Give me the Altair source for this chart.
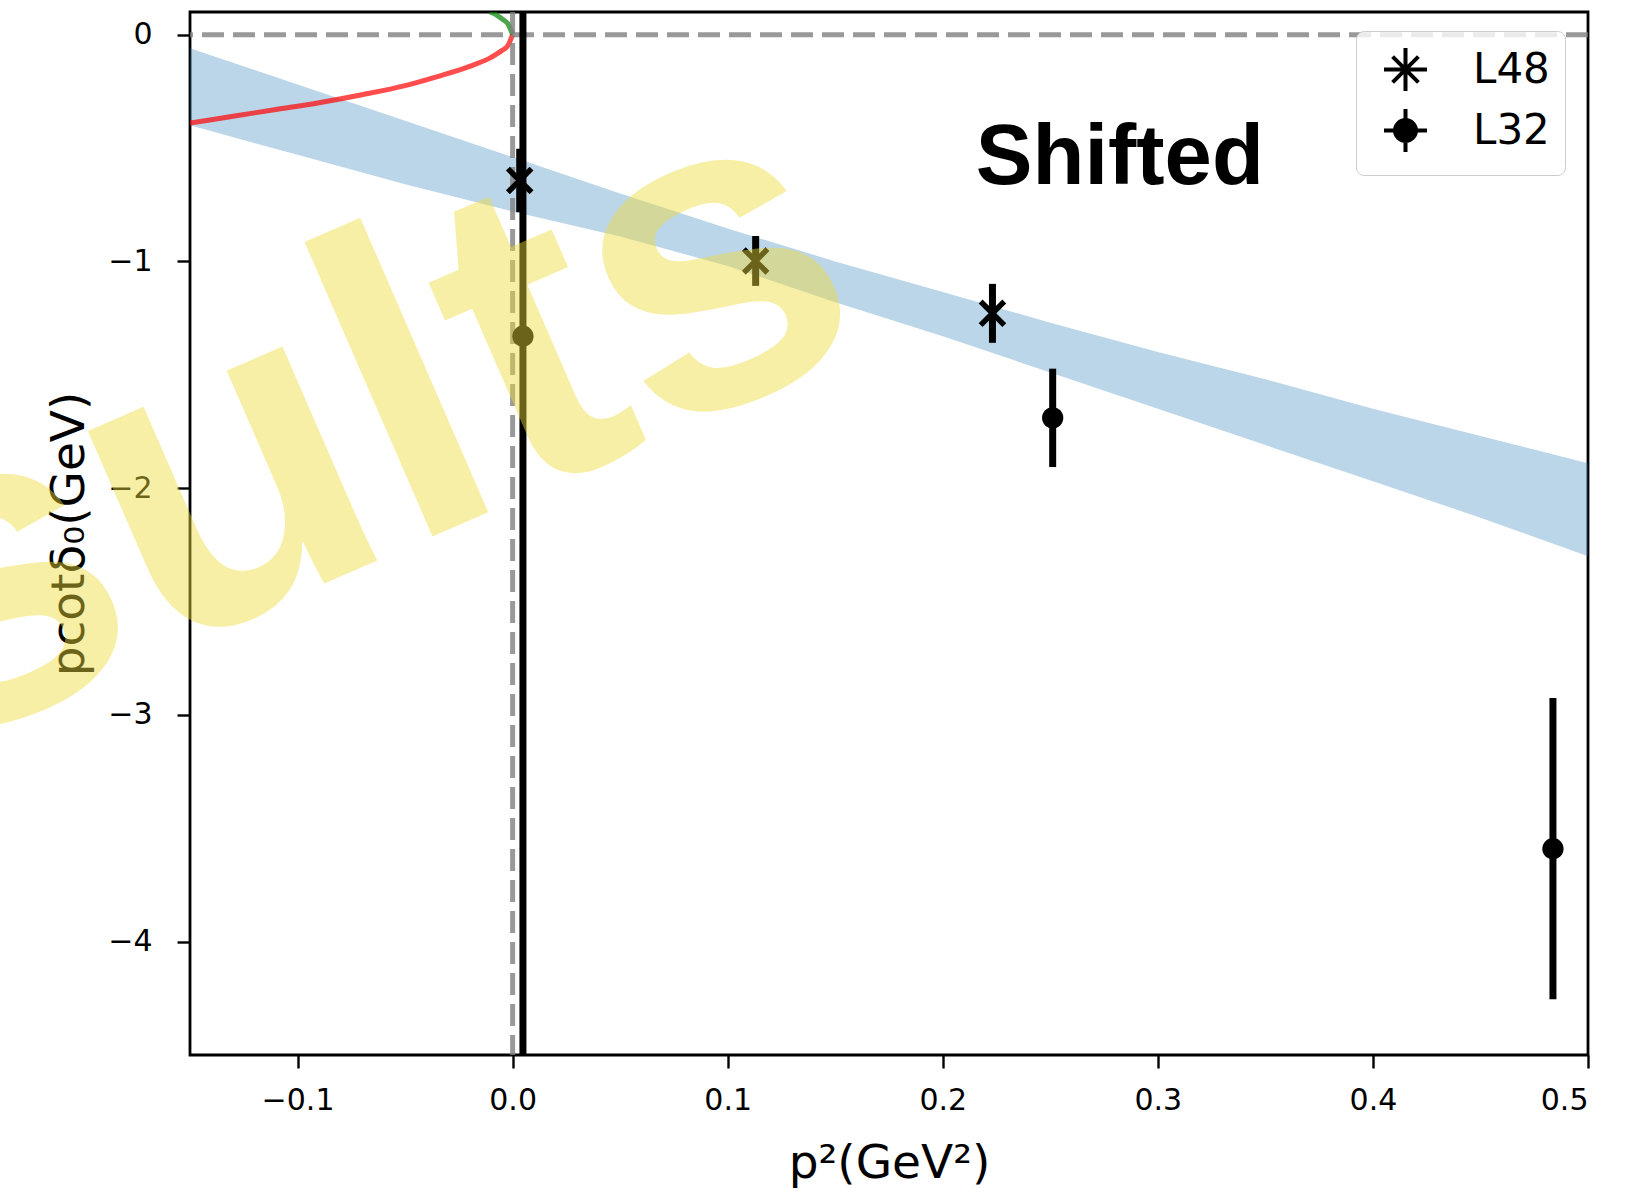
import altair as alt
import pandas as pd

# ---------------- data ----------------
band_x = [-0.15, -0.10, -0.05, 0.00, 0.05, 0.10, 0.15, 0.20, 0.25, 0.30, 0.35, 0.40, 0.45, 0.50]
band_upper = [-0.06, -0.22, -0.38, -0.54, -0.70, -0.855, -1.00, -1.135, -1.27, -1.40, -1.52, -1.65, -1.77, -1.89]
band_lower = [-0.40, -0.53, -0.66, -0.78, -0.89, -1.02, -1.18, -1.33, -1.49, -1.65, -1.81, -1.97, -2.13, -2.30]

red_x = [-0.15, -0.13, -0.11, -0.09, -0.07, -0.05, -0.035, -0.02, -0.01, -0.005, -0.002, 0.0]
red_y = [-0.39, -0.36, -0.33, -0.30, -0.265, -0.225, -0.185, -0.14, -0.10, -0.07, -0.045, 0.0]

green_x = [-0.0105, -0.008, -0.005, -0.002, 0.0]
green_y = [0.10, 0.09, 0.07, 0.045, 0.0]

l48_x = [0.0033, 0.1130, 0.2231]
l48_y = [-0.643, -0.998, -1.229]
l48_err = [0.14, 0.11, 0.13]

l32_x = [0.0048, 0.2511, 0.4837]
l32_y = [-1.330, -1.690, -3.590]
l32_err = [6.0, 0.217, 0.664]

series_names = ["L48", "L32"]
x_ticks = [-0.1, 0.0, 0.1, 0.2, 0.3, 0.4, 0.5]
y_ticks = [0, -1, -2, -3, -4]

label_text = ["Shifted"]
label_x = [0.2823]
label_y = [-0.657]

watermark_text = ["Results"]
watermark_x = [0.170]
watermark_y = [-1.358]

# ---------------- tables ----------------
band_df = pd.DataFrame({"x": band_x, "lo": band_lower, "hi": band_upper})
red_df = pd.DataFrame({"x": red_x, "y": red_y})
green_df = pd.DataFrame({"x": green_x, "y": green_y})
hline_df = pd.DataFrame({"y": [0.0]})
vline_df = pd.DataFrame({"x": [0.0]})
pts = pd.DataFrame({
    "x": l48_x + l32_x,
    "y": l48_y + l32_y,
    "err": l48_err + l32_err,
    "series": ["L48"] * 3 + ["L32"] * 3,
})
pts["lo"] = pts["y"] - pts["err"]
pts["hi"] = pts["y"] + pts["err"]
l48_df = pts[pts.series == "L48"]
l32_df = pts[pts.series == "L32"]
legend_df = pd.DataFrame({"x": [None, None], "y": [None, None], "series": series_names}).astype({"x": "float", "y": "float"})
label_df = pd.DataFrame({"x": label_x, "y": label_y, "t": label_text})
wm_df = pd.DataFrame({"x": watermark_x, "y": watermark_y, "t": watermark_text})

# legend glyphs: marker + error-bar cross (unit square paths)
star_path = "M-1,0L1,0M0,-1L0,1M-0.6,-0.6L0.6,0.6M-0.6,0.6L0.6,-0.6"
ring_radii = [0.07, 0.163, 0.256, 0.349, 0.442, 0.488]
dot_path = "".join(f"M{-r},0A{r},{r} 0 1,0 {r},0A{r},{r} 0 1,0 {-r},0" for r in ring_radii) + "M-1,0L1,0M0,-1L0,1"

# ---------------- scales / axes ----------------
x_scale = alt.Scale(domain=[-0.15, 0.5], nice=False, zero=False)
y_scale = alt.Scale(domain=[-4.5, 0.1], nice=False, zero=False)
x_axis = alt.Axis(values=x_ticks, format=".1f", title="p²(GeV²)")
y_axis = alt.Axis(values=y_ticks, format="d", title="pcotδ₀(GeV)")


def X(field="x"):
    return alt.X(f"{field}:Q", scale=x_scale, axis=x_axis)


def Y(field="y"):
    return alt.Y(f"{field}:Q", scale=y_scale, axis=y_axis)


band = alt.Chart(band_df).mark_area(color="#1f77b4", opacity=0.3, clip=True).encode(
    x=X(), y=Y("lo"), y2="hi:Q"
)
red = alt.Chart(red_df).mark_line(color="#ff0000", opacity=0.7, strokeWidth=5, interpolate="monotone", clip=True).encode(
    x=X(), y=Y()
)
green = alt.Chart(green_df).mark_line(color="#008000", opacity=0.7, strokeWidth=5, interpolate="monotone", clip=True).encode(
    x=X(), y=Y()
)
hline = alt.Chart(hline_df).mark_rule(color="#808080", opacity=0.8, strokeWidth=5, strokeDash=[22, 9]).encode(
    y=Y()
)
vline = alt.Chart(vline_df).mark_rule(color="#808080", opacity=0.8, strokeWidth=5, strokeDash=[22, 9]).encode(
    x=X()
)
errbars = alt.Chart(pts).mark_rule(color="black", strokeWidth=7, clip=True).encode(
    x=X(), y=Y("lo"), y2="hi:Q"
)
l48_pts = alt.Chart(l48_df).mark_point(
    shape="M-1,-1L1,1M-1,1L1,-1", size=560, stroke="black", strokeWidth=5.5, opacity=1, filled=False
).encode(x=X(), y=Y())
l32_pts = alt.Chart(l32_df).mark_circle(size=452, color="black", opacity=1).encode(x=X(), y=Y())

legend_layer = alt.Chart(legend_df).mark_point(
    filled=False, color="black", strokeWidth=4, opacity=1
).encode(
    x=X(), y=Y(),
    shape=alt.Shape(
        "series:N",
        scale=alt.Scale(domain=series_names, range=[star_path, dot_path]),
        legend=alt.Legend(
            title=None,
            orient="none",
            legendX=1166,
            legendY=19,
            padding=15,
            symbolOffset=11,
            rowPadding=2,
            labelOffset=44,
            labelFont="DejaVu Sans",
            labelFontSize=42,
            labelColor="black",
            symbolSize=1849,
            symbolStrokeWidth=4,
            symbolStrokeColor="black",
            symbolOpacity=1,
            strokeColor="#cccccc",
            fillColor="rgba(255,255,255,0.8)",
            cornerRadius=8,
        ),
    ),
)

shifted = alt.Chart(label_df).mark_text(
    font="Liberation Sans", fontWeight="bold", fontSize=85, align="center", baseline="alphabetic", color="black"
).encode(x=X(), y=Y(), text="t:N")

watermark = alt.Chart(wm_df).mark_text(
    font="Liberation Sans", fontWeight="bold", fontSize=443, align="right", baseline="alphabetic",
    angle=336.5, color="#F0DC3C", opacity=0.45, clip=False
).encode(x=X(), y=Y(), text="t:N")

chart = alt.layer(
    band, red, green, hline, vline, errbars, l48_pts, l32_pts, shifted, legend_layer, watermark
).properties(
    width=1398,
    height=1043,
    padding={"left": 190, "top": 12, "right": 41, "bottom": 140},
    autosize=alt.AutoSizeParams(type="none"),
    background="white",
).configure_view(
    stroke="black", strokeWidth=2.8
).configure_axis(
    grid=False,
    domain=False,
    tickColor="black",
    tickWidth=2.4,
    tickSize=13,
    labelFont="DejaVu Sans",
    labelFontSize=30,
    labelColor="black",
    titleFont="DejaVu Sans",
    titleFontSize=47,
    titleFontWeight="normal",
    titleColor="black",
).configure_axisX(
    labelPadding=17,
    titlePadding=25,
).configure_axisY(
    labelPadding=25,
    titlePadding=14,
)

chart.save("out.html", embed_options={"renderer": "svg", "actions": False})
